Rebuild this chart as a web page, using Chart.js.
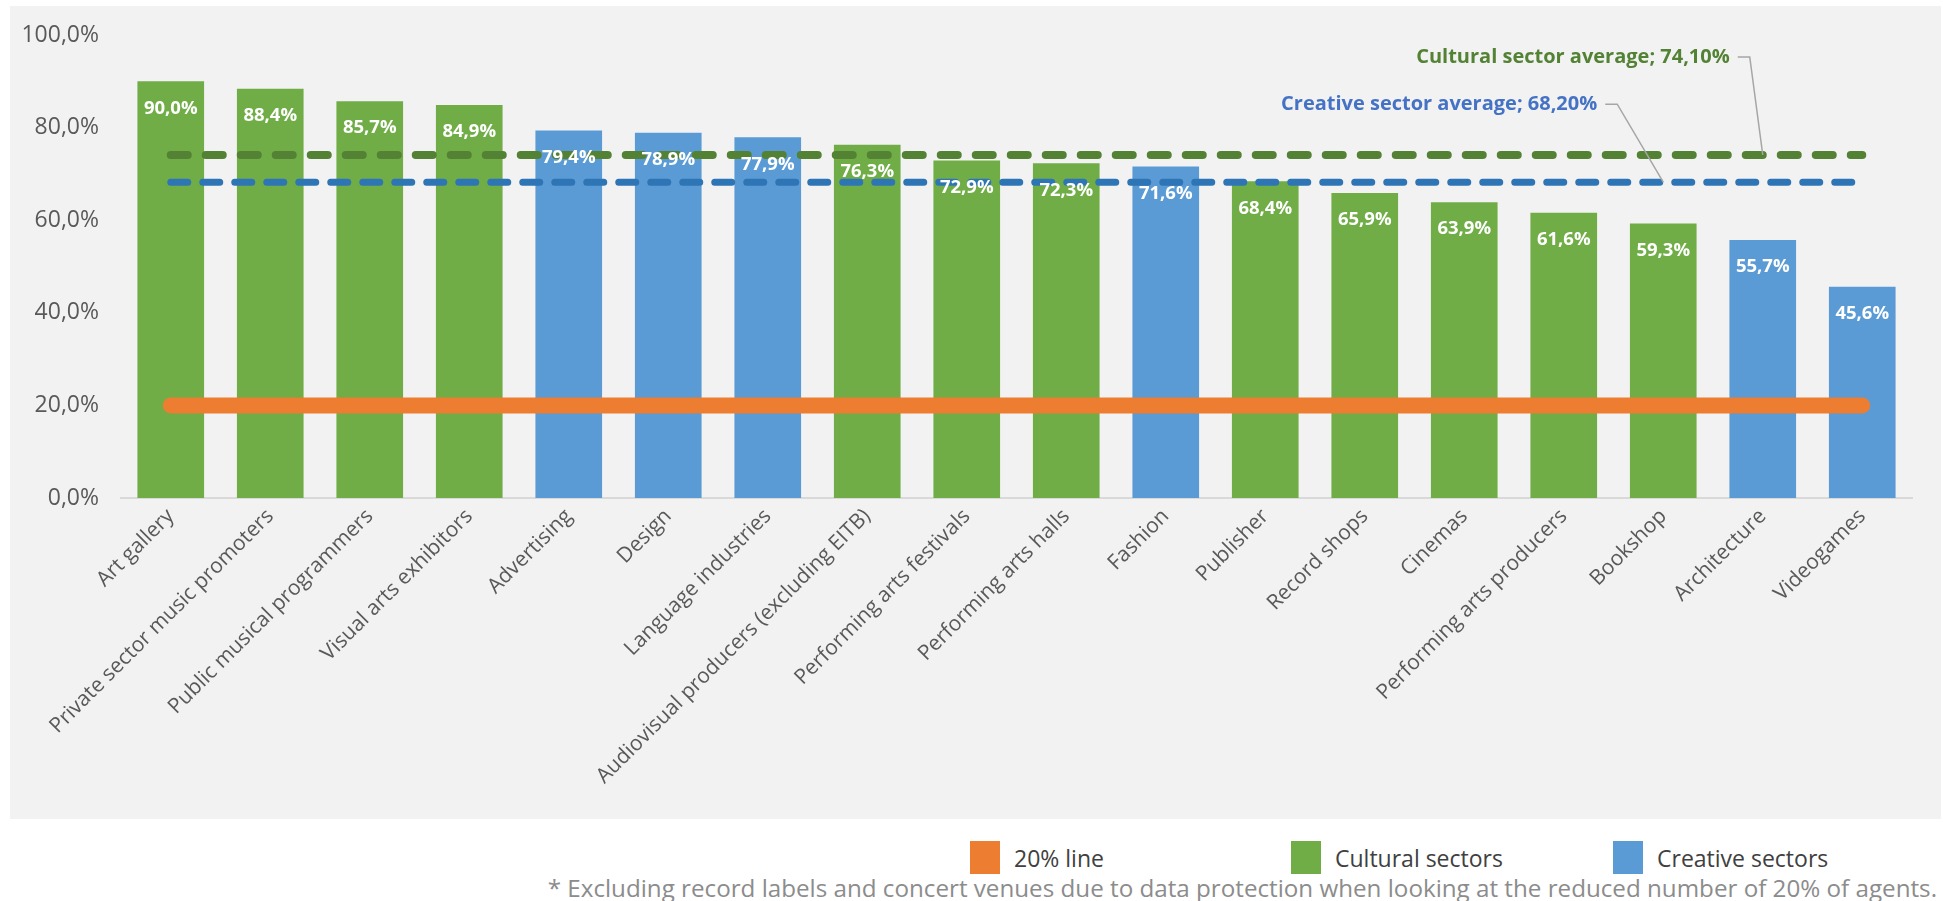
<!DOCTYPE html>
<html>
<head>
<meta charset="utf-8">
<script src="https://cdn.jsdelivr.net/npm/chart.js@4.4.1/dist/chart.umd.min.js"></script>
<style>
  body { margin: 0; background: #fff; font-family: "Open Sans", sans-serif; width: 1943px; height: 901px; position: relative; overflow: hidden; }
  #panel { position: absolute; left: 10px; top: 6px; width: 1931px; height: 813px; background: #f2f2f2; }
  .item { position: absolute; top: 841px; height: 33px; display: flex; align-items: center; font-size: 23px; color: #404040; }
  .swatch { width: 30px; height: 33px; margin-right: 14px; }
  #note { position: absolute; right: 6px; top: 871px; color: #8c8c8c; font-size: 24.2px; white-space: nowrap; }
</style>
</head>
<body>
<div id="panel"><canvas id="myChart" width="1931" height="813"></canvas></div>
<div id="legend"></div>
<div id="note">* Excluding record labels and concert venues due to data protection when looking at the reduced number of 20% of agents.</div>
<script>
// categories, sorted like the source
const sectors = [
  "Art gallery", "Private sector music promoters", "Public musical programmers",
  "Visual arts exhibitors", "Advertising", "Design", "Language industries",
  "Audiovisual producers (excluding EITB)", "Performing arts festivals",
  "Performing arts halls", "Fashion", "Publisher", "Record shops", "Cinemas",
  "Performing arts producers", "Bookshop", "Architecture", "Videogames"
];
const shares = [90.0, 88.4, 85.7, 84.9, 79.4, 78.9, 77.9, 76.3, 72.9, 72.3, 71.6, 68.4, 65.9, 63.9, 61.6, 59.3, 55.7, 45.6];
// "cu" = cultural, "cr" = creative
const sectorType = ["cu", "cu", "cu", "cu", "cr", "cr", "cr", "cu", "cu", "cu", "cr", "cu", "cu", "cu", "cu", "cu", "cr", "cr"];

const thresholdValue = 20;
const culturalAverage = 74.1;
const creativeAverage = 68.2;
const yTicks = [0, 20, 40, 60, 80, 100];

const GREEN = "#70ad47", BLUE = "#5b9bd5", ORANGE = "#ed7d31";

const fmt = (v, d) => v.toFixed(d).replace(".", ",") + "%";

// legend (html, below the grey panel)
const legendItems = [
  { text: "20% line", color: ORANGE, left: 970 },
  { text: "Cultural sectors", color: GREEN, left: 1291 },
  { text: "Creative sectors", color: BLUE, left: 1613 }
];
legendItems.forEach(it => {
  let d = document.createElement("div");
  d.className = "item";
  d.style.left = it.left + "px";
  d.innerHTML = '<span class="swatch" style="background:' + it.color + '"></span>' + it.text;
  document.getElementById("legend").appendChild(d);
});

// white bold values inside the bar tops
const barLabels = {
  id: "barLabels",
  afterDatasetsDraw(chart) {
    const ctx = chart.ctx;
    ctx.save();
    ctx.font = "bold 18.5px 'Open Sans'";
    ctx.fillStyle = "#fff";
    ctx.textAlign = "center";
    ctx.textBaseline = "middle";
    chart.data.datasets.forEach((ds, i) => {
      if (ds.type != "bar") return;
      chart.getDatasetMeta(i).data.forEach((el, j) => {
        if (ds.data[j] == null) return;
        ctx.fillText(fmt(ds.data[j], 1), el.x, el.y + 27);
      });
    });
    ctx.restore();
  }
};

// callouts for the two averages
const callouts = [
  { text: "Cultural sector average; " + culturalAverage.toFixed(2).replace(".", ",") + "%", value: culturalAverage, index: 16, dx: -13, dy: -98, color: "#548235" },
  { text: "Creative sector average; " + creativeAverage.toFixed(2).replace(".", ",") + "%", value: creativeAverage, index: 15, dx: -46, dy: -78, color: "#4472c4" }
];
const calloutPlugin = {
  id: "callouts",
  afterDraw(chart) {
    const ctx = chart.ctx;
    const xs = chart.scales.x, ys = chart.scales.y;
    ctx.save();
    callouts.forEach(c => {
      let x = xs.getPixelForValue(c.index);
      let y = ys.getPixelForValue(c.value);
      let ex = x + c.dx, ey = y + c.dy;
      ctx.strokeStyle = "#a6a6a6";
      ctx.lineWidth = 1.5;
      ctx.beginPath();
      ctx.moveTo(x, y);
      ctx.lineTo(ex, ey);
      ctx.lineTo(ex - 12, ey);
      ctx.stroke();
      ctx.font = "bold 20px 'Open Sans'";
      ctx.fillStyle = c.color;
      ctx.textAlign = "right";
      ctx.textBaseline = "middle";
      ctx.fillText(c.text, ex - 20, ey);
    });
    ctx.restore();
  }
};

const flat = v => sectors.map(() => v);

new Chart(document.getElementById("myChart"), {
  data: {
    labels: sectors,
    datasets: [
      {
        type: "line", label: "20% line", data: flat(thresholdValue),
        borderColor: ORANGE, borderWidth: 16, borderCapStyle: "round", pointRadius: 0, order: 0
      },
      {
        type: "line", label: "Cultural sector average", data: flat(culturalAverage),
        borderColor: "#548235", borderWidth: 8, borderDash: [17, 18], borderCapStyle: "round", pointRadius: 0, order: 0
      },
      {
        type: "line", label: "Creative sector average", data: flat(creativeAverage),
        borderColor: "#2e75b6", borderWidth: 7, borderDash: [17, 15], borderCapStyle: "round", pointRadius: 0, order: 0
      },
      {
        type: "bar", label: "Cultural sectors",
        data: shares.map((v, i) => sectorType[i] == "cu" ? v : null),
        backgroundColor: GREEN, grouped: false, barPercentage: 0.67, categoryPercentage: 1, order: 1
      },
      {
        type: "bar", label: "Creative sectors",
        data: shares.map((v, i) => sectorType[i] == "cr" ? v : null),
        backgroundColor: BLUE, grouped: false, barPercentage: 0.67, categoryPercentage: 1, order: 1
      }
    ]
  },
  options: {
    responsive: false,
    animation: false,
    layout: { padding: { top: 29, right: 29, left: 0, bottom: 0 } },
    plugins: {
      legend: { display: false },
      tooltip: { enabled: false }
    },
    scales: {
      x: {
        grid: { display: false, drawTicks: false },
        border: { display: true, color: "#d9d9d9", width: 2 },
        ticks: {
          color: "#595959", font: { family: "'Open Sans'", size: 21 },
          minRotation: 45, maxRotation: 45, padding: 6, autoSkip: false
        },
        afterFit: (s) => { s.height = 321; }
      },
      y: {
        min: 0, max: 100,
        grid: { display: false, drawTicks: false },
        border: { display: false },
        afterBuildTicks: (s) => { s.ticks = yTicks.map(v => ({ value: v })); },
        ticks: {
          color: "#595959", font: { family: "'Open Sans'", size: 23 }, padding: 22,
          callback: (v) => fmt(v, 1)
        },
        afterFit: (s) => { s.width = 111; s.paddingTop = 0; s.paddingBottom = 0; }
      }
    }
  },
  plugins: [barLabels, calloutPlugin]
});
</script>
</body>
</html>
